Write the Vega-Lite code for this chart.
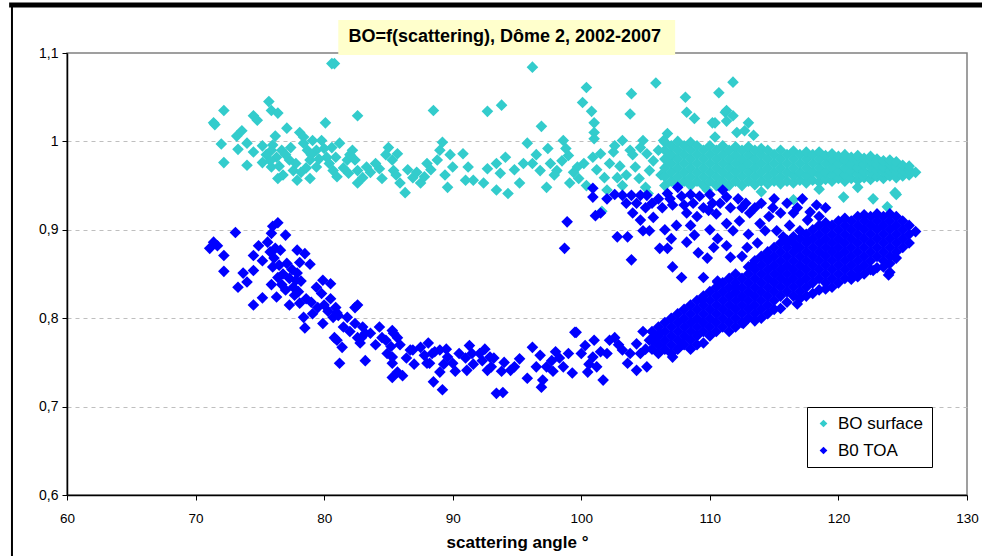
{
"$schema": "https://vega.github.io/schema/vega-lite/v6.json",
"width": 900, "height": 442,
"autosize": "none",
"padding": {"left": 67, "top": 53, "right": 15, "bottom": 61},
"background": "white",
"config": {
  "font": "Liberation Sans",
  "view": {"stroke": "#808080", "strokeWidth": 1.5},
  "axisX": {"grid": false, "domainColor": "black", "domainWidth": 1.5, "tickColor": "black", "tickSize": 5, "labelFontSize": 13.5, "labelColor": "black", "labelPadding": 11, "titleFontSize": 17, "titleFontWeight": "bold", "titleColor": "black", "titlePadding": 10, "labelFlush": false},
  "axisY": {"domainColor": "black", "domainWidth": 1.5, "tickColor": "black", "tickSize": 5, "labelFontSize": 14, "labelColor": "black", "labelPadding": 4, "gridColor": "#bfbfbf", "gridDash": [4, 4], "gridWidth": 1.2}
},
"datasets": {
"surface": [
{"x":71.4,"y":1.021},{"x":71.5,"y":1.019},{"x":72.2,"y":1.035},{"x":72.0,"y":0.997},{"x":72.2,"y":0.976},{"x":73.2,"y":1.006},{"x":73.6,"y":1.012},{"x":73.3,"y":0.991},{"x":74.0,"y":0.998},{"x":74.0,"y":0.973},{"x":74.5,"y":1.029},{"x":74.8,"y":1.024},{"x":74.5,"y":0.988},{"x":75.2,"y":0.995},{"x":75.2,"y":0.976},{"x":75.7,"y":1.045},{"x":75.9,"y":1.035},{"x":76.4,"y":1.032},{"x":76.2,"y":1.006},{"x":75.9,"y":0.990},{"x":76.3,"y":0.982},{"x":75.9,"y":0.971},{"x":76.4,"y":0.958},{"x":76.7,"y":0.990},{"x":77.1,"y":1.015},{"x":77.3,"y":0.979},{"x":77.6,"y":0.967},{"x":78.1,"y":1.010},{"x":78.4,"y":1.005},{"x":77.9,"y":0.956},{"x":78.4,"y":0.998},{"x":78.7,"y":0.990},{"x":78.9,"y":0.979},{"x":78.9,"y":0.958},{"x":79.1,"y":1.001},{"x":79.4,"y":0.990},{"x":79.4,"y":0.971},{"x":79.8,"y":1.001},{"x":80.1,"y":1.021},{"x":80.2,"y":0.982},{"x":80.6,"y":1.088},{"x":80.8,"y":1.088},{"x":80.6,"y":0.993},{"x":80.7,"y":0.967},{"x":81.2,"y":0.998},{"x":81.8,"y":0.979},{"x":81.9,"y":0.964},{"x":82.2,"y":0.990},{"x":82.4,"y":0.979},{"x":82.6,"y":1.029},{"x":82.6,"y":0.967},{"x":82.6,"y":0.953},{"x":83.0,"y":0.959},{"x":83.3,"y":0.971},{"x":84.3,"y":0.969},{"x":84.5,"y":0.958},{"x":85.0,"y":0.993},{"x":85.3,"y":0.979},{"x":85.4,"y":0.967},{"x":85.9,"y":0.953},{"x":86.3,"y":0.942},{"x":85.7,"y":0.986},{"x":86.9,"y":0.959},{"x":87.5,"y":0.953},{"x":88.0,"y":0.975},{"x":88.5,"y":1.035},{"x":88.8,"y":0.979},{"x":89.0,"y":0.990},{"x":89.2,"y":0.999},{"x":89.4,"y":0.962},{"x":90.0,"y":0.971},{"x":89.6,"y":0.948},
{"x":75.5,"y":0.985},{"x":75.8,"y":0.978},{"x":76.0,"y":0.996},{"x":76.5,"y":0.972},{"x":76.8,"y":0.962},{"x":77.0,"y":0.985},{"x":77.4,"y":0.993},{"x":77.8,"y":0.975},{"x":78.2,"y":0.965},{"x":78.6,"y":0.970},{"x":79.0,"y":0.985},{"x":79.6,"y":0.980},{"x":80.0,"y":0.992},{"x":80.4,"y":0.975},{"x":80.9,"y":0.982},{"x":81.0,"y":0.960},{"x":81.5,"y":0.970},{"x":82.0,"y":0.985},{"x":83.6,"y":0.965},{"x":84.0,"y":0.975},{"x":84.8,"y":0.985},{"x":85.6,"y":0.962},{"x":86.5,"y":0.968},{"x":87.2,"y":0.965},{"x":87.8,"y":0.960},{"x":88.3,"y":0.968},{"x":89.8,"y":0.985},
{"x":90.8,"y":0.986},{"x":91.2,"y":0.971},{"x":91.0,"y":0.956},{"x":91.6,"y":0.956},{"x":92.4,"y":0.953},{"x":92.7,"y":0.969},{"x":92.7,"y":1.034},{"x":93.8,"y":1.041},{"x":93.4,"y":0.975},{"x":93.7,"y":0.964},{"x":94.1,"y":0.982},{"x":94.3,"y":0.941},{"x":93.4,"y":0.945},{"x":95.2,"y":0.953},{"x":95.8,"y":0.998},{"x":96.2,"y":1.084},{"x":96.2,"y":0.975},{"x":96.9,"y":1.017},{"x":96.8,"y":0.967},{"x":97.4,"y":0.992},{"x":97.6,"y":0.975},{"x":97.3,"y":0.948},{"x":98.1,"y":0.967},{"x":98.6,"y":1.001},{"x":99.0,"y":0.984},{"x":99.1,"y":0.953},{"x":99.7,"y":0.971},{"x":100.1,"y":1.044},{"x":100.4,"y":1.061},{"x":100.8,"y":1.034},{"x":101.0,"y":1.021},{"x":101.0,"y":1.010},{"x":101.0,"y":1.003},{"x":100.4,"y":0.950},{"x":100.9,"y":0.982},{"x":101.5,"y":0.986},{"x":101.8,"y":0.959},{"x":102.2,"y":0.975},{"x":102.0,"y":0.945},{"x":102.8,"y":0.959},{"x":103.2,"y":1.001},{"x":103.8,"y":0.990},{"x":103.9,"y":1.054},{"x":103.8,"y":1.031},{"x":104.2,"y":0.971},{"x":104.8,"y":1.001},{"x":105.1,"y":0.986},{"x":105.3,"y":0.967},{"x":105.8,"y":1.066},{"x":106.4,"y":1.001},{"x":106.7,"y":1.009},{"x":106.9,"y":0.982},{"x":108.1,"y":1.050},{"x":108.2,"y":1.033},{"x":108.8,"y":1.026},
{"x":94.8,"y":0.968},{"x":95.5,"y":0.975},{"x":96.5,"y":0.985},{"x":98.5,"y":0.978},{"x":99.4,"y":0.965},{"x":101.2,"y":0.968},{"x":102.5,"y":0.988},{"x":103.0,"y":0.972},{"x":103.5,"y":0.962},{"x":104.0,"y":0.985},{"x":104.5,"y":0.958},{"x":105.6,"y":0.978},{"x":106.0,"y":0.990},{"x":106.2,"y":0.962},{"x":105.0,"y":0.948},{"x":103.2,"y":0.950},{"x":102.6,"y":0.995},{"x":104.6,"y":0.993},{"x":99.8,"y":0.958},{"x":98.8,"y":0.992},{"x":97.9,"y":0.962},{"x":100.2,"y":0.975},{"x":101.6,"y":0.921},
{"x":111.8,"y":1.067},{"x":110.7,"y":1.055},{"x":111.2,"y":1.033},{"x":111.8,"y":1.029},{"x":111.3,"y":1.023},{"x":110.4,"y":1.021},{"x":113.0,"y":1.021},{"x":112.1,"y":1.010},{"x":112.7,"y":1.012},{"x":113.4,"y":1.007},{"x":110.4,"y":1.005},{"x":110.2,"y":1.021},{"x":111.3,"y":1.035},{"x":124.5,"y":0.940},{"x":122.7,"y":0.935},{"x":123.8,"y":0.926},{"x":124.4,"y":0.942},{"x":120.4,"y":0.937},{"x":116.5,"y":0.934},{"x":105.2,"y":0.941},{"x":109.8,"y":0.945},{"x":114.0,"y":0.943},{"x":118.5,"y":0.946},{"x":121.5,"y":0.948},
{"x":106.5,"y":0.950},{"x":106.5,"y":0.960},{"x":106.5,"y":0.970},{"x":106.5,"y":0.980},{"x":106.5,"y":0.990},{"x":106.5,"y":0.999},
{"x":107.0,"y":0.955},{"x":107.0,"y":0.965},{"x":107.0,"y":0.975},{"x":107.0,"y":0.985},{"x":107.0,"y":0.995},
{"x":107.5,"y":0.950},{"x":107.5,"y":0.960},{"x":107.5,"y":0.970},{"x":107.5,"y":0.980},{"x":107.5,"y":0.990},{"x":107.5,"y":1.000},
{"x":108.0,"y":0.955},{"x":108.0,"y":0.965},{"x":108.0,"y":0.975},{"x":108.0,"y":0.985},{"x":108.0,"y":0.995},
{"x":108.5,"y":0.950},{"x":108.5,"y":0.960},{"x":108.5,"y":0.970},{"x":108.5,"y":0.980},{"x":108.5,"y":0.990},{"x":108.5,"y":0.999},
{"x":109.0,"y":0.955},{"x":109.0,"y":0.965},{"x":109.0,"y":0.975},{"x":109.0,"y":0.985},{"x":109.0,"y":0.995},
{"x":109.5,"y":0.950},{"x":109.5,"y":0.960},{"x":109.5,"y":0.970},{"x":109.5,"y":0.980},{"x":109.5,"y":0.990},
{"x":110.0,"y":0.955},{"x":110.0,"y":0.965},{"x":110.0,"y":0.975},{"x":110.0,"y":0.985},{"x":110.0,"y":0.995},
{"x":110.5,"y":0.950},{"x":110.5,"y":0.960},{"x":110.5,"y":0.970},{"x":110.5,"y":0.980},{"x":110.5,"y":0.990},
{"x":111.0,"y":0.955},{"x":111.0,"y":0.965},{"x":111.0,"y":0.975},{"x":111.0,"y":0.985},{"x":111.0,"y":0.995},
{"x":111.5,"y":0.950},{"x":111.5,"y":0.960},{"x":111.5,"y":0.970},{"x":111.5,"y":0.980},{"x":111.5,"y":0.990},
{"x":112.0,"y":0.955},{"x":112.0,"y":0.965},{"x":112.0,"y":0.975},{"x":112.0,"y":0.985},{"x":112.0,"y":0.994},
{"x":112.5,"y":0.950},{"x":112.5,"y":0.960},{"x":112.5,"y":0.970},{"x":112.5,"y":0.980},{"x":112.5,"y":0.990},
{"x":113.0,"y":0.955},{"x":113.0,"y":0.965},{"x":113.0,"y":0.975},{"x":113.0,"y":0.985},{"x":113.0,"y":0.994},
{"x":113.5,"y":0.951},{"x":113.5,"y":0.960},{"x":113.5,"y":0.970},{"x":113.5,"y":0.980},{"x":113.5,"y":0.990},
{"x":114.0,"y":0.955},{"x":114.0,"y":0.965},{"x":114.0,"y":0.975},{"x":114.0,"y":0.985},{"x":114.0,"y":0.992},
{"x":114.5,"y":0.952},{"x":114.5,"y":0.960},{"x":114.5,"y":0.970},{"x":114.5,"y":0.980},{"x":114.5,"y":0.990},
{"x":115.0,"y":0.955},{"x":115.0,"y":0.965},{"x":115.0,"y":0.975},{"x":115.0,"y":0.985},
{"x":115.5,"y":0.952},{"x":115.5,"y":0.960},{"x":115.5,"y":0.970},{"x":115.5,"y":0.980},{"x":115.5,"y":0.990},
{"x":116.0,"y":0.955},{"x":116.0,"y":0.965},{"x":116.0,"y":0.975},{"x":116.0,"y":0.985},
{"x":116.5,"y":0.953},{"x":116.5,"y":0.961},{"x":116.5,"y":0.970},{"x":116.5,"y":0.980},{"x":116.5,"y":0.989},
{"x":117.0,"y":0.956},{"x":117.0,"y":0.965},{"x":117.0,"y":0.975},{"x":117.0,"y":0.985},
{"x":117.5,"y":0.953},{"x":117.5,"y":0.961},{"x":117.5,"y":0.970},{"x":117.5,"y":0.980},{"x":117.5,"y":0.988},
{"x":118.0,"y":0.956},{"x":118.0,"y":0.965},{"x":118.0,"y":0.975},{"x":118.0,"y":0.985},
{"x":118.5,"y":0.954},{"x":118.5,"y":0.962},{"x":118.5,"y":0.970},{"x":118.5,"y":0.980},{"x":118.5,"y":0.988},
{"x":119.0,"y":0.957},{"x":119.0,"y":0.965},{"x":119.0,"y":0.975},{"x":119.0,"y":0.984},
{"x":119.5,"y":0.955},{"x":119.5,"y":0.962},{"x":119.5,"y":0.970},{"x":119.5,"y":0.979},{"x":119.5,"y":0.986},
{"x":120.0,"y":0.958},{"x":120.0,"y":0.966},{"x":120.0,"y":0.975},{"x":120.0,"y":0.983},
{"x":120.5,"y":0.955},{"x":120.5,"y":0.962},{"x":120.5,"y":0.970},{"x":120.5,"y":0.978},{"x":120.5,"y":0.985},
{"x":121.0,"y":0.958},{"x":121.0,"y":0.966},{"x":121.0,"y":0.974},{"x":121.0,"y":0.982},
{"x":121.5,"y":0.956},{"x":121.5,"y":0.963},{"x":121.5,"y":0.970},{"x":121.5,"y":0.978},{"x":121.5,"y":0.984},
{"x":122.0,"y":0.959},{"x":122.0,"y":0.966},{"x":122.0,"y":0.974},{"x":122.0,"y":0.981},
{"x":122.5,"y":0.957},{"x":122.5,"y":0.964},{"x":122.5,"y":0.971},{"x":122.5,"y":0.978},{"x":122.5,"y":0.983},
{"x":123.0,"y":0.960},{"x":123.0,"y":0.967},{"x":123.0,"y":0.974},{"x":123.0,"y":0.980},
{"x":123.5,"y":0.958},{"x":123.5,"y":0.965},{"x":123.5,"y":0.971},{"x":123.5,"y":0.978},
{"x":124.0,"y":0.961},{"x":124.0,"y":0.967},{"x":124.0,"y":0.974},{"x":124.0,"y":0.979},
{"x":124.5,"y":0.959},{"x":124.5,"y":0.965},{"x":124.5,"y":0.971},{"x":124.5,"y":0.977},
{"x":125.0,"y":0.961},{"x":125.0,"y":0.967},{"x":125.0,"y":0.973},
{"x":125.5,"y":0.962},{"x":125.5,"y":0.968},{"x":125.5,"y":0.972},
{"x":126.0,"y":0.965}
],
"toa": [
{"x":71.4,"y":0.886},{"x":71.1,"y":0.879},{"x":71.7,"y":0.882},{"x":72.2,"y":0.871},{"x":72.2,"y":0.853},{"x":73.1,"y":0.897},{"x":73.3,"y":0.835},{"x":73.7,"y":0.851},{"x":74.0,"y":0.841},{"x":74.5,"y":0.871},{"x":74.5,"y":0.854},{"x":74.9,"y":0.882},{"x":74.5,"y":0.815},{"x":75.2,"y":0.823},{"x":75.2,"y":0.865},{"x":75.9,"y":0.896},{"x":76.4,"y":0.908},{"x":76.0,"y":0.904},{"x":77.0,"y":0.894},{"x":75.8,"y":0.875},{"x":76.2,"y":0.879},{"x":76.6,"y":0.877},{"x":76.0,"y":0.858},{"x":76.4,"y":0.846},{"x":76.3,"y":0.824},{"x":77.1,"y":0.862},{"x":77.0,"y":0.832},{"x":77.6,"y":0.835},{"x":77.9,"y":0.851},{"x":77.9,"y":0.877},{"x":78.5,"y":0.873},{"x":78.1,"y":0.863},{"x":77.7,"y":0.826},{"x":78.1,"y":0.817},{"x":77.3,"y":0.815},{"x":78.9,"y":0.861},{"x":78.4,"y":0.801},{"x":78.5,"y":0.789},{"x":79.1,"y":0.805},{"x":79.4,"y":0.835},{"x":79.9,"y":0.843},{"x":80.5,"y":0.839},{"x":79.8,"y":0.828},{"x":79.9,"y":0.794},{"x":80.7,"y":0.801},{"x":80.8,"y":0.778},{"x":81.4,"y":0.767},{"x":81.2,"y":0.749},{"x":81.1,"y":0.803},{"x":81.8,"y":0.801},{"x":82.4,"y":0.812},{"x":82.4,"y":0.794},{"x":82.6,"y":0.778},{"x":83.2,"y":0.783},{"x":83.2,"y":0.752},{"x":83.6,"y":0.783},{"x":84.3,"y":0.790},{"x":84.5,"y":0.778},{"x":85.3,"y":0.786},{"x":85.7,"y":0.778},{"x":84.9,"y":0.760},{"x":85.3,"y":0.749},{"x":85.7,"y":0.739},{"x":86.1,"y":0.735},{"x":86.7,"y":0.764},{"x":87.5,"y":0.767},{"x":88.1,"y":0.772},{"x":88.2,"y":0.749},{"x":88.5,"y":0.728},{"x":89.0,"y":0.739},{"x":89.2,"y":0.719},{"x":89.6,"y":0.756},{"x":90.0,"y":0.749},{"x":91.0,"y":0.755},{"x":91.1,"y":0.741},{"x":91.3,"y":0.769},{"x":92.1,"y":0.760},{"x":92.7,"y":0.741},{"x":92.9,"y":0.756},{"x":93.4,"y":0.715},
{"x":75.6,"y":0.886},{"x":76.1,"y":0.868},{"x":76.5,"y":0.860},{"x":76.8,"y":0.850},{"x":75.9,"y":0.838},{"x":76.7,"y":0.838},{"x":77.3,"y":0.845},{"x":77.5,"y":0.855},{"x":77.8,"y":0.843},{"x":78.2,"y":0.842},{"x":78.0,"y":0.830},{"x":78.6,"y":0.822},{"x":79.0,"y":0.818},{"x":79.5,"y":0.812},{"x":80.0,"y":0.815},{"x":80.3,"y":0.808},{"x":80.5,"y":0.822},{"x":80.9,"y":0.812},{"x":81.5,"y":0.790},{"x":82.0,"y":0.785},{"x":82.8,"y":0.772},{"x":83.0,"y":0.790},{"x":84.0,"y":0.770},{"x":84.8,"y":0.775},{"x":85.2,"y":0.768},{"x":85.9,"y":0.770},{"x":86.4,"y":0.755},{"x":87.0,"y":0.748},{"x":87.8,"y":0.758},{"x":88.6,"y":0.762},{"x":89.3,"y":0.748},{"x":90.5,"y":0.760},{"x":91.6,"y":0.748},{"x":92.3,"y":0.752},{"x":93.0,"y":0.745},{"x":93.8,"y":0.740},
{"x":81.0,"y":0.806},{"x":82.6,"y":0.815},{"x":81.0,"y":0.775},{"x":82.9,"y":0.778},{"x":85.4,"y":0.783},{"x":85.3,"y":0.756},{"x":85.3,"y":0.733},{"x":86.9,"y":0.764},{"x":88.0,"y":0.749},{"x":89.0,"y":0.764},{"x":93.9,"y":0.716},{"x":94.5,"y":0.741},{"x":95.2,"y":0.754},{"x":95.8,"y":0.732},{"x":96.2,"y":0.767},{"x":96.8,"y":0.758},{"x":97.3,"y":0.745},{"x":97.0,"y":0.730},{"x":96.9,"y":0.722},{"x":97.7,"y":0.752},{"x":98.3,"y":0.755},{"x":99.5,"y":0.784},{"x":100.3,"y":0.769},{"x":100.9,"y":0.756},{"x":100.5,"y":0.739},{"x":101.7,"y":0.730},{"x":102.0,"y":0.760},{"x":102.6,"y":0.778},{"x":103.2,"y":0.764},{"x":103.6,"y":0.749},{"x":104.3,"y":0.771},{"x":104.3,"y":0.741},{"x":105.1,"y":0.745},{"x":105.3,"y":0.775},{"x":106.1,"y":0.783},{"x":107.1,"y":0.756},{"x":107.5,"y":0.795},{"x":107.9,"y":0.771},
{"x":97.8,"y":0.740},{"x":98.0,"y":0.762},{"x":98.6,"y":0.745},{"x":99.0,"y":0.760},{"x":99.3,"y":0.738},{"x":96.5,"y":0.745},{"x":100.0,"y":0.760},{"x":100.6,"y":0.748},{"x":101.2,"y":0.745},{"x":101.5,"y":0.762},{"x":101.0,"y":0.775},{"x":102.9,"y":0.770},{"x":103.8,"y":0.760},{"x":104.6,"y":0.760},{"x":105.0,"y":0.765},{"x":105.7,"y":0.780},{"x":106.0,"y":0.770},{"x":104.8,"y":0.785},{"x":88.4,"y":0.760},{"x":89.5,"y":0.765},{"x":90.2,"y":0.740},{"x":91.5,"y":0.760},{"x":92.5,"y":0.765},{"x":93.2,"y":0.755},{"x":94.0,"y":0.750},{"x":94.8,"y":0.745},{"x":102.2,"y":0.775},{"x":99.6,"y":0.784},
{"x":98.7,"y":0.879},{"x":98.9,"y":0.909},{"x":100.9,"y":0.947},{"x":100.9,"y":0.937},{"x":101.1,"y":0.916},{"x":101.5,"y":0.919},{"x":102.8,"y":0.892},{"x":103.6,"y":0.892},{"x":103.9,"y":0.866},{"x":103.2,"y":0.939},{"x":103.9,"y":0.939},{"x":104.6,"y":0.939},{"x":104.0,"y":0.919},{"x":104.6,"y":0.911},{"x":105.1,"y":0.939},{"x":105.3,"y":0.899},{"x":104.8,"y":0.899},{"x":105.6,"y":0.914},{"x":106.1,"y":0.879},{"x":106.7,"y":0.879},{"x":106.7,"y":0.941},{"x":107.1,"y":0.928},{"x":107.5,"y":0.948},{"x":107.1,"y":0.858},{"x":107.8,"y":0.846},{"x":107.4,"y":0.905},{"x":108.2,"y":0.919},{"x":108.2,"y":0.886},{"x":108.8,"y":0.894},{"x":109.1,"y":0.874},{"x":109.8,"y":0.868},{"x":109.5,"y":0.925},{"x":109.5,"y":0.846},{"x":110.6,"y":0.842},{"x":110.6,"y":0.890},{"x":110.2,"y":0.930},{"x":111.3,"y":0.937},{"x":111.3,"y":0.907},{"x":111.8,"y":0.899},{"x":112.0,"y":0.835},{"x":111.3,"y":0.882},{"x":111.6,"y":0.869},{"x":112.5,"y":0.925},{"x":112.9,"y":0.880},{"x":113.1,"y":0.919},{"x":113.9,"y":0.907},{"x":113.7,"y":0.885},{"x":114.3,"y":0.899},{"x":114.5,"y":0.868},{"x":114.9,"y":0.925},{"x":115.2,"y":0.899},{"x":115.5,"y":0.919},{"x":115.7,"y":0.892},{"x":116.5,"y":0.919},{"x":117.0,"y":0.899},{"x":117.6,"y":0.888},{"x":117.6,"y":0.911},
{"x":106.9,"y":0.935},{"x":107.8,"y":0.938},{"x":108.0,"y":0.928},{"x":108.5,"y":0.940},{"x":108.7,"y":0.930},{"x":109.0,"y":0.915},{"x":109.2,"y":0.938},{"x":109.9,"y":0.922},{"x":110.0,"y":0.940},{"x":110.5,"y":0.918},{"x":110.8,"y":0.930},{"x":111.0,"y":0.945},{"x":111.6,"y":0.925},{"x":112.2,"y":0.935},{"x":112.8,"y":0.930},{"x":113.5,"y":0.925},{"x":114.0,"y":0.930},{"x":114.6,"y":0.915},{"x":115.0,"y":0.935},{"x":116.0,"y":0.930},{"x":116.8,"y":0.925},{"x":117.2,"y":0.935},{"x":117.8,"y":0.920},{"x":118.3,"y":0.928},{"x":118.5,"y":0.915},{"x":119.0,"y":0.925},{"x":105.0,"y":0.925},{"x":105.5,"y":0.930},{"x":106.0,"y":0.935},{"x":106.3,"y":0.925},{"x":104.3,"y":0.930},{"x":102.6,"y":0.940},{"x":102.0,"y":0.935},{"x":103.5,"y":0.930},{"x":106.5,"y":0.900},{"x":107.0,"y":0.890},{"x":108.5,"y":0.905},{"x":110.0,"y":0.900},{"x":110.3,"y":0.880},{"x":112.3,"y":0.910},{"x":113.0,"y":0.895},{"x":116.2,"y":0.905},{"x":116.0,"y":0.885},{"x":116.8,"y":0.880},{"x":112.5,"y":0.870},{"x":113.3,"y":0.860},
{"x":109.4,"y":0.821},{"x":109.5,"y":0.772},{"x":112.6,"y":0.794},{"x":116.8,"y":0.816},{"x":124.0,"y":0.852},{"x":122.7,"y":0.854},{"x":123.9,"y":0.849},{"x":124.4,"y":0.869},{"x":110.6,"y":0.841},
{"x":105.5,"y":0.765},{"x":105.5,"y":0.775},{"x":105.5,"y":0.785},
{"x":106.0,"y":0.760},{"x":106.0,"y":0.770},{"x":106.0,"y":0.780},{"x":106.0,"y":0.790},
{"x":106.5,"y":0.765},{"x":106.5,"y":0.775},{"x":106.5,"y":0.785},{"x":106.5,"y":0.795},
{"x":107.0,"y":0.760},{"x":107.0,"y":0.770},{"x":107.0,"y":0.780},{"x":107.0,"y":0.790},{"x":107.0,"y":0.800},
{"x":107.5,"y":0.765},{"x":107.5,"y":0.775},{"x":107.5,"y":0.785},{"x":107.5,"y":0.805},
{"x":108.0,"y":0.770},{"x":108.0,"y":0.780},{"x":108.0,"y":0.790},{"x":108.0,"y":0.800},{"x":108.0,"y":0.810},
{"x":108.5,"y":0.765},{"x":108.5,"y":0.775},{"x":108.5,"y":0.785},{"x":108.5,"y":0.795},{"x":108.5,"y":0.805},{"x":108.5,"y":0.815},
{"x":109.0,"y":0.770},{"x":109.0,"y":0.780},{"x":109.0,"y":0.790},{"x":109.0,"y":0.800},{"x":109.0,"y":0.810},{"x":109.0,"y":0.820},
{"x":109.5,"y":0.785},{"x":109.5,"y":0.795},{"x":109.5,"y":0.805},{"x":109.5,"y":0.815},{"x":109.5,"y":0.825},
{"x":110.0,"y":0.780},{"x":110.0,"y":0.790},{"x":110.0,"y":0.800},{"x":110.0,"y":0.810},{"x":110.0,"y":0.820},{"x":110.0,"y":0.830},
{"x":110.5,"y":0.785},{"x":110.5,"y":0.795},{"x":110.5,"y":0.805},{"x":110.5,"y":0.815},{"x":110.5,"y":0.825},{"x":110.5,"y":0.835},
{"x":111.0,"y":0.790},{"x":111.0,"y":0.800},{"x":111.0,"y":0.810},{"x":111.0,"y":0.820},{"x":111.0,"y":0.830},{"x":111.0,"y":0.840},
{"x":111.5,"y":0.785},{"x":111.5,"y":0.795},{"x":111.5,"y":0.805},{"x":111.5,"y":0.815},{"x":111.5,"y":0.825},{"x":111.5,"y":0.835},{"x":111.5,"y":0.845},
{"x":112.0,"y":0.790},{"x":112.0,"y":0.800},{"x":112.0,"y":0.810},{"x":112.0,"y":0.820},{"x":112.0,"y":0.830},{"x":112.0,"y":0.840},{"x":112.0,"y":0.850},
{"x":112.5,"y":0.795},{"x":112.5,"y":0.805},{"x":112.5,"y":0.815},{"x":112.5,"y":0.825},{"x":112.5,"y":0.835},{"x":112.5,"y":0.845},
{"x":113.0,"y":0.800},{"x":113.0,"y":0.810},{"x":113.0,"y":0.820},{"x":113.0,"y":0.830},{"x":113.0,"y":0.840},{"x":113.0,"y":0.850},{"x":113.0,"y":0.858},
{"x":113.5,"y":0.797},{"x":113.5,"y":0.805},{"x":113.5,"y":0.815},{"x":113.5,"y":0.825},{"x":113.5,"y":0.835},{"x":113.5,"y":0.845},{"x":113.5,"y":0.855},{"x":113.5,"y":0.865},
{"x":114.0,"y":0.800},{"x":114.0,"y":0.810},{"x":114.0,"y":0.820},{"x":114.0,"y":0.830},{"x":114.0,"y":0.840},{"x":114.0,"y":0.850},{"x":114.0,"y":0.860},{"x":114.0,"y":0.870},
{"x":114.5,"y":0.805},{"x":114.5,"y":0.815},{"x":114.5,"y":0.825},{"x":114.5,"y":0.835},{"x":114.5,"y":0.845},{"x":114.5,"y":0.855},{"x":114.5,"y":0.865},{"x":114.5,"y":0.875},
{"x":115.0,"y":0.810},{"x":115.0,"y":0.820},{"x":115.0,"y":0.830},{"x":115.0,"y":0.840},{"x":115.0,"y":0.850},{"x":115.0,"y":0.860},{"x":115.0,"y":0.870},{"x":115.0,"y":0.880},
{"x":115.5,"y":0.811},{"x":115.5,"y":0.825},{"x":115.5,"y":0.835},{"x":115.5,"y":0.845},{"x":115.5,"y":0.855},{"x":115.5,"y":0.865},{"x":115.5,"y":0.875},{"x":115.5,"y":0.885},
{"x":116.0,"y":0.818},{"x":116.0,"y":0.830},{"x":116.0,"y":0.840},{"x":116.0,"y":0.850},{"x":116.0,"y":0.860},{"x":116.0,"y":0.870},{"x":116.0,"y":0.880},{"x":116.0,"y":0.888},
{"x":116.5,"y":0.825},{"x":116.5,"y":0.835},{"x":116.5,"y":0.845},{"x":116.5,"y":0.855},{"x":116.5,"y":0.865},{"x":116.5,"y":0.875},{"x":116.5,"y":0.885},{"x":116.5,"y":0.892},
{"x":117.0,"y":0.822},{"x":117.0,"y":0.830},{"x":117.0,"y":0.840},{"x":117.0,"y":0.850},{"x":117.0,"y":0.860},{"x":117.0,"y":0.870},{"x":117.0,"y":0.880},{"x":117.0,"y":0.890},
{"x":117.5,"y":0.825},{"x":117.5,"y":0.835},{"x":117.5,"y":0.845},{"x":117.5,"y":0.855},{"x":117.5,"y":0.865},{"x":117.5,"y":0.875},{"x":117.5,"y":0.885},{"x":117.5,"y":0.895},
{"x":118.0,"y":0.828},{"x":118.0,"y":0.840},{"x":118.0,"y":0.850},{"x":118.0,"y":0.860},{"x":118.0,"y":0.870},{"x":118.0,"y":0.880},{"x":118.0,"y":0.890},{"x":118.0,"y":0.900},
{"x":118.5,"y":0.832},{"x":118.5,"y":0.845},{"x":118.5,"y":0.855},{"x":118.5,"y":0.865},{"x":118.5,"y":0.875},{"x":118.5,"y":0.885},{"x":118.5,"y":0.895},{"x":118.5,"y":0.905},
{"x":119.0,"y":0.833},{"x":119.0,"y":0.840},{"x":119.0,"y":0.850},{"x":119.0,"y":0.860},{"x":119.0,"y":0.870},{"x":119.0,"y":0.880},{"x":119.0,"y":0.890},{"x":119.0,"y":0.900},{"x":119.0,"y":0.908},
{"x":119.5,"y":0.835},{"x":119.5,"y":0.845},{"x":119.5,"y":0.855},{"x":119.5,"y":0.865},{"x":119.5,"y":0.875},{"x":119.5,"y":0.885},{"x":119.5,"y":0.895},{"x":119.5,"y":0.905},
{"x":120.0,"y":0.840},{"x":120.0,"y":0.850},{"x":120.0,"y":0.860},{"x":120.0,"y":0.870},{"x":120.0,"y":0.880},{"x":120.0,"y":0.890},{"x":120.0,"y":0.900},{"x":120.0,"y":0.910},
{"x":120.5,"y":0.845},{"x":120.5,"y":0.855},{"x":120.5,"y":0.865},{"x":120.5,"y":0.875},{"x":120.5,"y":0.885},{"x":120.5,"y":0.895},{"x":120.5,"y":0.905},{"x":120.5,"y":0.913},
{"x":121.0,"y":0.844},{"x":121.0,"y":0.850},{"x":121.0,"y":0.860},{"x":121.0,"y":0.870},{"x":121.0,"y":0.880},{"x":121.0,"y":0.890},{"x":121.0,"y":0.900},{"x":121.0,"y":0.910},
{"x":121.5,"y":0.847},{"x":121.5,"y":0.855},{"x":121.5,"y":0.865},{"x":121.5,"y":0.875},{"x":121.5,"y":0.885},{"x":121.5,"y":0.895},{"x":121.5,"y":0.905},{"x":121.5,"y":0.915},
{"x":122.0,"y":0.850},{"x":122.0,"y":0.860},{"x":122.0,"y":0.870},{"x":122.0,"y":0.880},{"x":122.0,"y":0.890},{"x":122.0,"y":0.900},{"x":122.0,"y":0.910},{"x":122.0,"y":0.917},
{"x":122.5,"y":0.855},{"x":122.5,"y":0.865},{"x":122.5,"y":0.875},{"x":122.5,"y":0.885},{"x":122.5,"y":0.895},{"x":122.5,"y":0.905},{"x":122.5,"y":0.915},
{"x":123.0,"y":0.857},{"x":123.0,"y":0.870},{"x":123.0,"y":0.880},{"x":123.0,"y":0.890},{"x":123.0,"y":0.900},{"x":123.0,"y":0.910},{"x":123.0,"y":0.918},
{"x":123.5,"y":0.858},{"x":123.5,"y":0.865},{"x":123.5,"y":0.875},{"x":123.5,"y":0.885},{"x":123.5,"y":0.895},{"x":123.5,"y":0.905},{"x":123.5,"y":0.915},
{"x":124.0,"y":0.862},{"x":124.0,"y":0.870},{"x":124.0,"y":0.880},{"x":124.0,"y":0.890},{"x":124.0,"y":0.900},{"x":124.0,"y":0.910},{"x":124.0,"y":0.918},
{"x":124.5,"y":0.868},{"x":124.5,"y":0.875},{"x":124.5,"y":0.885},{"x":124.5,"y":0.895},{"x":124.5,"y":0.905},{"x":124.5,"y":0.915},
{"x":125.0,"y":0.880},{"x":125.0,"y":0.890},{"x":125.0,"y":0.900},{"x":125.0,"y":0.910},
{"x":125.5,"y":0.885},{"x":125.5,"y":0.895},{"x":125.5,"y":0.905},
{"x":126.0,"y":0.898}
]
},
"layer": [
{
 "data": {"values": [{}]},
 "mark": {"type": "rule", "color": "black", "strokeWidth": 5, "clip": false},
 "encoding": {
  "x": {"datum": 55.5, "type": "quantitative", "scale": {"domain": [60, 130], "nice": false}, "title": "scattering angle  °"},
  "x2": {"datum": 131.2},
  "y": {"datum": 1.1542, "type": "quantitative", "scale": {"domain": [0.6, 1.1], "nice": false, "zero": false}, "title": null}
 }
},
{
 "data": {"values": [{}]},
 "mark": {"type": "rule", "color": "black", "strokeWidth": 2, "clip": false},
 "encoding": {
  "x": {"datum": 55.72, "type": "quantitative", "scale": {"domain": [60, 130], "nice": false}, "title": "scattering angle  °"},
  "y": {"datum": 1.1542, "type": "quantitative", "scale": {"domain": [0.6, 1.1], "nice": false, "zero": false}, "title": null},
  "y2": {"datum": 0.531}
 }
},
{
 "data": {"values": [{}]},
 "mark": {"type": "rect", "fill": "#FFFFCC", "clip": false},
 "encoding": {
  "x": {"datum": 81.1, "type": "quantitative", "scale": {"domain": [60, 130], "nice": false}, "title": "scattering angle  °"},
  "x2": {"datum": 107.3},
  "y": {"datum": 1.1373, "type": "quantitative", "scale": {"domain": [0.6, 1.1], "nice": false, "zero": false}, "title": null},
  "y2": {"datum": 1.0977}
 }
},
{
 "data": {"values": [{}]},
 "mark": {"type": "text", "text": "BO=f(scattering), Dôme 2, 2002-2007", "fontSize": 18, "fontWeight": "bold", "color": "black", "align": "center", "baseline": "middle", "clip": false},
 "encoding": {
  "x": {"datum": 94.05, "type": "quantitative", "scale": {"domain": [60, 130], "nice": false}, "title": "scattering angle  °"},
  "y": {"datum": 1.118, "type": "quantitative", "scale": {"domain": [0.6, 1.1], "nice": false, "zero": false}, "title": null}
 }
},
{
 "data": {"name": "surface"},
 "mark": {"type": "point", "shape": "diamond", "filled": true, "size": 135, "opacity": 1},
 "encoding": {
  "x": {"field": "x", "type": "quantitative", "scale": {"domain": [60, 130], "nice": false}, "title": "scattering angle  °", "axis": {"values": [60, 70, 80, 90, 100, 110, 120, 130]}},
  "y": {"field": "y", "type": "quantitative", "scale": {"domain": [0.6, 1.1], "nice": false, "zero": false}, "title": null, "axis": {"values": [0.6, 0.7, 0.8, 0.9, 1.0, 1.1], "grid": true, "gridOpacity": {"condition": {"test": "datum.value > 1.05 || datum.value < 0.65", "value": 0}, "value": 1}, "labelExpr": "replace(format(datum.value, '.1~f'), '.', ',')"}},
  "color": {"datum": "BO surface", "type": "nominal", "scale": {"domain": ["BO surface", "B0 TOA"], "range": ["#33CCCC", "#0000FF"]}, "legend": {"orient": "none", "legendX": 740, "legendY": 354, "title": null, "symbolType": "diamond", "symbolSize": 60, "labelFontSize": 17, "labelColor": "black", "strokeColor": "black", "fillColor": "white", "padding": 8, "rowPadding": 9, "labelOffset": 6}}
 }
},
{
 "data": {"name": "toa"},
 "mark": {"type": "point", "shape": "diamond", "filled": true, "size": 135, "opacity": 1},
 "encoding": {
  "x": {"field": "x", "type": "quantitative", "scale": {"domain": [60, 130], "nice": false}, "title": "scattering angle  °"},
  "y": {"field": "y", "type": "quantitative", "scale": {"domain": [0.6, 1.1], "nice": false, "zero": false}, "title": null},
  "color": {"datum": "B0 TOA", "type": "nominal", "scale": {"domain": ["BO surface", "B0 TOA"], "range": ["#33CCCC", "#0000FF"]}}
 }
}
]
}
